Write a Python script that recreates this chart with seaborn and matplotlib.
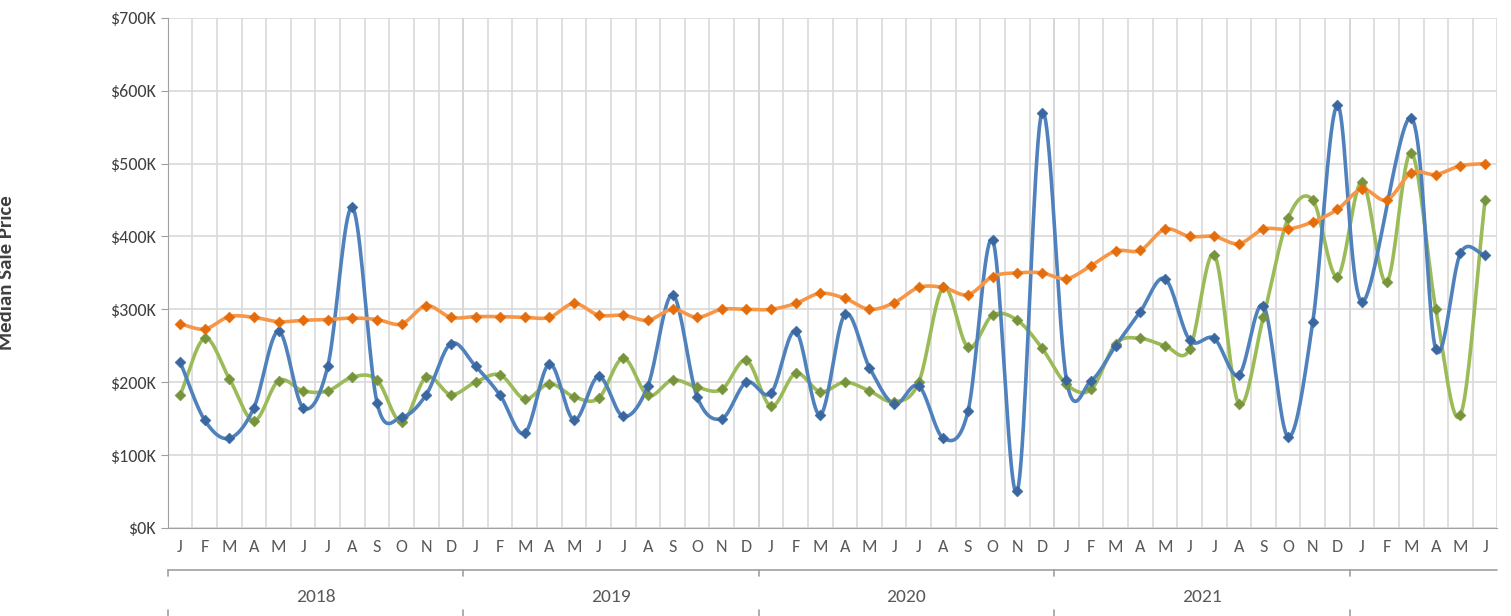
import numpy as np
import pandas as pd
import matplotlib
matplotlib.use("Agg")
import matplotlib.pyplot as plt
import matplotlib.transforms as mtransforms
import seaborn as sns

months = list("JFMAMJJASOND") * 4 + list("JFMAMJ")
years = ["2018", "2019", "2020", "2021"]

blue = [228, 148, 123, 165, 270, 165, 222, 440, 172, 152, 183, 253,
        222, 182, 130, 225, 148, 208, 153, 195, 320, 180, 150, 200,
        185, 270, 155, 293, 220, 170, 195, 123, 160, 395, 50, 570,
        203, 202, 250, 297, 342, 258, 260, 210, 305, 125, 282, 580,
        310, np.nan, 563, 245, 377, 375]
green = [182, 260, 205, 147, 202, 188, 188, 207, 203, 145, 207, 183,
         200, 210, 177, 198, 180, 178, 233, 182, 203, 193, 190, 230,
         167, 212, 187, 200, 188, 173, 200, 330, 248, 292, 285, 247,
         197, 190, 253, 260, 250, 245, 375, 170, 290, 425, 450, 345,
         475, 337, 515, 300, 155, 450]
orange = [280, 273, 290, 289, 283, 285, 286, 288, 286, 280, 305, 289,
          290, 290, 289, 289, 308, 292, 292, 285, 300, 289, 300, 300,
          300, 308, 322, 315, 300, 309, 330, 330, 320, 345, 350, 350,
          342, 360, 380, 381, 410, 400, 400, 390, 410, 410, 420, 437,
          465, 450, 487, 485, 497, 500]


def smooth(y, n=20):
    # catmull-rom through the known points
    x = np.arange(len(y), dtype=float)
    y = np.asarray(y, dtype=float)
    ok = ~np.isnan(y)
    x, y = x[ok], y[ok]
    px = np.concatenate([[2 * x[0] - x[1]], x, [2 * x[-1] - x[-2]]])
    py = np.concatenate([[2 * y[0] - y[1]], y, [2 * y[-1] - y[-2]]])
    xs, ys = [], []
    for i in range(1, len(px) - 2):
        t = np.linspace(0, 1, n, endpoint=False)
        for p, out in ((px, xs), (py, ys)):
            p0, p1, p2, p3 = p[i - 1], p[i], p[i + 1], p[i + 2]
            out.extend(0.5 * (2 * p1 + (-p0 + p2) * t + (2 * p0 - 5 * p1 + 4 * p2 - p3) * t ** 2
                              + (-p0 + 3 * p1 - 3 * p2 + p3) * t ** 3))
    xs.append(x[-1]); ys.append(y[-1])
    return pd.DataFrame({"x": xs, "y": ys})


sns.set_style("white")
plt.rcParams["font.family"] = ["Carlito", "Liberation Sans", "DejaVu Sans"]
fig = plt.figure(figsize=(15.11, 6.16), dpi=100)
ax = fig.add_axes([0.111, 0.143, 0.880, 0.828])

series = [(green, "#9bbb59", "#77933c"), (blue, "#4f81bd", "#3a679f"), (orange, "#f79646", "#e46c0a")]
for vals, lc, mc in series:
    s = smooth(vals)
    sns.lineplot(data=s, x="x", y="y", color=lc, linewidth=2.6, ax=ax, sort=False)
    pts = pd.DataFrame({"x": np.arange(len(vals)), "y": vals}).dropna()
    sns.scatterplot(data=pts, x="x", y="y", color=mc, marker="D", s=30, edgecolor=mc, ax=ax, zorder=5)

ax.set_xlim(-0.5, len(months) - 0.5)
ax.set_ylim(0, 700)
ax.set_yticks(range(0, 701, 100))
ax.set_yticklabels([f"${v}K" for v in range(0, 701, 100)], fontsize=13, color="#404040")
ax.set_xticks(range(len(months)))
ax.set_xticklabels(months, fontsize=13, color="#595959")
ax.set_xticks(np.arange(-0.5, len(months), 1), minor=True)
ax.tick_params(axis="x", which="major", length=0, pad=8)
ax.tick_params(axis="x", which="minor", length=5, color="#a0a0a0")
ax.tick_params(axis="y", length=5, color="#a0a0a0", left=True)
ax.grid(True, axis="y", color="#d9d9d9", linewidth=1.2)
ax.grid(True, axis="x", which="minor", color="#d9d9d9", linewidth=1.2)
for b in range(12, len(months), 12):
    ax.axvline(b - 0.5, color="#bfbfbf", linewidth=1.2, zorder=0.5)
for sp in ["top", "right"]:
    ax.spines[sp].set_visible(False)
for sp in ["left", "bottom"]:
    ax.spines[sp].set_color("#a0a0a0")
ax.set_xlabel("")
ax.set_ylabel("Median Sale Price", fontsize=15, fontweight="bold", color="#404040")
ax.yaxis.set_label_coords(-0.115, 0.5)

trans = mtransforms.blended_transform_factory(ax.transData, ax.transAxes)
ax.plot([-0.5, len(months) - 0.5], [-0.082, -0.082], transform=trans, color="#a0a0a0", lw=1.2, clip_on=False)
for i in range(5):
    x0 = i * 12 - 0.5
    ax.plot([x0, x0], [-0.082, -0.095], transform=trans, color="#a0a0a0", lw=1.2, clip_on=False)
    ax.plot([x0, x0], [-0.16, -0.175], transform=trans, color="#a0a0a0", lw=1.2, clip_on=False)
for i, yr in enumerate(years):
    ax.text(i * 12 + 5.5, -0.135, yr, transform=trans, ha="center", va="center", fontsize=14, color="#595959")

fig.savefig("out.png", dpi=100)
